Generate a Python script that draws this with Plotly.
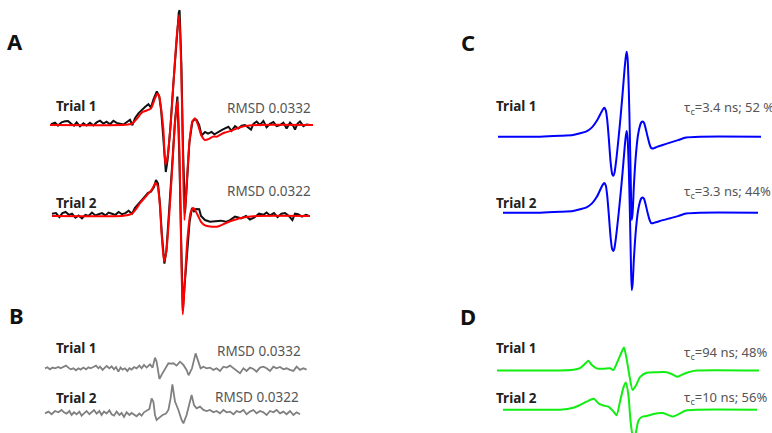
import plotly.graph_objects as go

# ---------------- data (field offset in G, amplitude in a.u.) ----------------
# Panel A: experimental spectra (black) and fits (red)
EXP1_FIELD = [0.5, 2.5, 4, 5.8, 7.5, 9, 10.5, 12, 13.3, 15,
              16.7, 18.3, 20, 21.7, 23.3, 25, 26.7, 28.3, 30, 31.7,
              33.3, 35, 36.7, 38.3, 40, 41.2, 42.5, 44.2, 45.8, 47.5,
              49.2, 50.5, 51.7, 53.4, 54.6, 55.6, 56.6, 57.4, 57.9, 58.8,
              60.2, 61.7, 63.2, 64.4, 64.8, 65.7, 66.5, 67.1, 67.5, 68.3,
              69.7, 71.2, 72.3, 73.3, 74.6, 75.8, 77.5, 79, 80.8, 82.2,
              83.5, 85.8, 87.5, 89.2, 90.8, 92.5, 94.2, 95.8, 97.5, 99,
              100.5, 101.7, 103.3, 105, 106.7, 108.3, 110, 111.7, 113.3, 115,
              116.7, 118.3, 120, 121.7, 122.5, 123.7, 125, 126.7, 128.3, 130,
              131.5]
EXP1_AMP = [0.006, 0.02, -0.005, 0.023, 0.032, 0.034, 0.012, -0.006, 0.023, -0.012,
            0.015, -0.005, 0.02, -0.004, 0.022, 0.037, 0.012, 0.028, 0.006, 0.037,
            0.018, 0.012, 0.004, 0.024, 0.045, -0.002, 0.058, 0.1, 0.13, 0.155,
            0.18, 0.15, 0.22, 0.29, 0.25, 0.12, -0.1, -0.33, -0.405, -0.3,
            -0.02, 0.36, 0.75, 0.97, 0.99, 0.52, -0.2, -0.66, -0.76, -0.55,
            -0.15, 0.03, 0.05, 0.045, 0.0, -0.09, -0.06, -0.075, -0.06, -0.08,
            -0.065, -0.045, -0.03, -0.015, -0.05, -0.01, -0.03, -0.005, 0.0, -0.02,
            -0.04, 0.01, 0.03, 0.0, 0.035, -0.02, 0.01, 0.025, -0.01, 0.0,
            0.02, -0.03, 0.02, -0.01, -0.04, 0.01, 0.03, -0.01, 0.005, 0.0,
            0.0]

EXP2_FIELD = [1, 3, 4.7, 6.2, 7.8, 9.5, 11, 12.7, 14.3, 16,
              17.7, 19.3, 21, 22.7, 24.3, 26, 27.7, 29.3, 31, 32.7,
              34.3, 36, 37.7, 39.3, 41, 42.5, 44, 45.8, 47.5, 49,
              50.5, 52, 53, 54, 55, 55.9, 56.7, 57.2, 58.2, 59.5,
              61, 62.5, 63.7, 64.6, 65.4, 66, 66.4, 67.2, 68.5, 69.8,
              71, 72, 73, 74.6, 75.5, 77.5, 80, 82.5, 85.5, 88,
              90, 92.5, 95.5, 98, 100, 102, 104.5, 106.7, 108.3, 110,
              112, 113.8, 115.7, 117.5, 119.5, 121.2, 122.5, 124, 126, 128,
              129.5]
EXP2_AMP = [0.02, 0.025, -0.01, 0.025, 0.035, 0.01, 0.02, -0.015, 0.005, -0.02,
            0.01, 0.0, 0.03, 0.005, 0.015, 0.025, 0.005, 0.03, 0.02, 0.01,
            0.035, 0.015, 0.025, 0.045, 0.02, 0.07, 0.1, 0.14, 0.17, 0.2,
            0.21, 0.25, 0.31, 0.28, 0.1, -0.15, -0.36, -0.41, -0.3, 0.0,
            0.42, 0.82, 1.03, 0.55, -0.1, -0.62, -0.82, -0.62, -0.3, -0.05,
            0.07, 0.04, 0.06, 0.058, 0.0, -0.035, -0.05, -0.045, -0.04, -0.05,
            -0.035, -0.005, -0.02, 0.0, -0.03, -0.015, 0.02, 0.01, 0.03, 0.005,
            0.025, -0.01, 0.02, 0.025, 0.0, -0.035, 0.02, 0.015, -0.005, 0.01,
            0.0]

FIT1_FIELD = [0, 36, 39, 41.2, 42.7, 44.2, 45.5, 46.7, 48.3, 50.5,
              52.5, 53.7, 54.7, 55.5, 56.7, 57.7, 58.8, 60.3, 61.8, 63.3,
              64.6, 65.6, 66.4, 67.2, 68.2, 69.7, 71.2, 72.5, 74, 75.7,
              77.5, 79.5, 81.5, 83.5, 85.5, 87.5, 89.5, 92, 96, 104,
              131.5]
FIT1_AMP = [0, 0.0, 0.005, 0.015, 0.04, 0.07, 0.1, 0.115, 0.125, 0.144,
            0.23, 0.27, 0.24, 0.15, -0.04, -0.34, -0.27, 0.0, 0.38, 0.75,
            0.95, 0.5, -0.2, -0.82, -0.55, -0.15, 0.03, 0.058, 0.0, -0.09,
            -0.13, -0.12, -0.1, -0.1, -0.08, -0.065, -0.055, -0.04, -0.015, 0.0,
            0.0]

FIT2_FIELD = [1, 36, 39, 41, 43, 45, 47, 49, 51, 52.8,
              53.8, 54.8, 55.8, 57, 58.2, 59.5, 61, 62.5, 63.8, 64.8,
              65.6, 66.4, 67.3, 68.7, 70.3, 71.7, 73.5, 75.5, 77.5, 80,
              84, 88, 92, 96, 104, 130]
FIT2_AMP = [0, 0, 0.008, 0.02, 0.06, 0.11, 0.15, 0.19, 0.23, 0.285,
            0.26, 0.12, -0.15, -0.39, -0.3, -0.02, 0.38, 0.8, 1.0, 0.5,
            -0.3, -0.85, -0.6, -0.2, 0.03, 0.07, 0.02, -0.05, -0.08, -0.09,
            -0.09, -0.06, -0.035, -0.015, 0, 0]

# Panel B: residuals (grey)
RES1_FIELD = [0.5, 1.7, 3, 4.3, 5.5, 7.2, 8.3, 9.7, 11, 12.2,
              13.3, 14.7, 16, 17.2, 18.3, 19.7, 21, 22.2, 23.3, 24.7,
              26, 27.2, 28, 29.3, 30.5, 31.3, 32.7, 33.8, 35, 36,
              37.2, 38.3, 39.3, 40.5, 41.7, 42.7, 43.8, 45, 46.3, 47.7,
              48.8, 50, 51.3, 53, 54.3, 55.5, 56.3, 57.2, 57.7, 58.8,
              60.5, 62.2, 63.5, 64.7, 66.3, 68, 69.7, 71.3, 72.3, 74,
              75.8, 77.2, 78.3, 79.7, 81.3, 83, 84.7, 86.3, 88, 89.7,
              91.3, 93, 94.7, 96.3, 98, 99.7, 101.3, 103, 104.7, 106.3,
              108, 109.7, 111.3, 113, 114.7, 116.3, 118, 119.7, 121.3, 123,
              124.7, 126.3, 128, 129.7, 131.3]
RES1_AMP = [0, 0.009, -0.009, 0.006, 0, 0.011, 0, 0.014, 0.023, 0.006,
            -0.009, 0, -0.017, 0, -0.011, 0.006, -0.009, 0.009, 0, 0.011,
            0.023, 0, 0.014, -0.014, 0.006, 0.02, 0, 0.017, -0.009, 0.011,
            -0.029, 0.006, -0.011, 0, -0.023, 0, -0.011, 0.011, 0, 0.023,
            0, 0.029, 0.006, 0.034, 0.006, 0.092, 0.057, -0.043, -0.092, -0.057,
            0, 0.043, 0.04, 0.043, 0.023, 0.057, 0.029, -0.014, -0.06, 0.0,
            0.129, 0.057, 0, 0.014, 0, 0.006, -0.014, 0, -0.023, 0.014,
            0.006, 0.023, 0, -0.014, -0.043, 0, -0.023, 0.006, -0.006, -0.029,
            0.006, 0.014, 0, -0.023, 0.014, 0, 0.011, -0.009, 0, -0.014,
            -0.023, 0.014, -0.014, 0, -0.011]

RES2_FIELD = [0.5, 2.2, 3.8, 5.5, 7.2, 8.8, 10, 11.3, 12.7, 13.8,
              15, 16.3, 17.7, 18.8, 20, 21.3, 22.7, 23.8, 25, 26.3,
              27.7, 28.8, 30, 31.3, 32.7, 33.8, 35, 36.3, 37.7, 38.8,
              40, 41.3, 42.7, 43.8, 45, 46.3, 47.7, 48.8, 50, 51.3,
              52.7, 53.8, 54.7, 55.5, 56.3, 57.7, 59.3, 61, 62.2, 63.3,
              64.2, 65.5, 67.2, 68.8, 69.7, 71.3, 73, 73.8, 75, 76.3,
              78, 79.7, 81.3, 83, 84.7, 86.3, 88, 89.7, 91.3, 93,
              94.7, 96.3, 98, 99.7, 101.3, 103, 104.7, 106.3, 108, 109.7,
              111.3, 113, 114.7, 116.3, 118, 119.7, 121.3, 123, 124.7, 126.3,
              128]
RES2_AMP = [-0.009, 0.006, -0.017, 0.011, 0, 0.02, 0, -0.011, 0.011, -0.023,
            0, -0.017, 0.006, -0.029, -0.009, 0.011, -0.017, 0, 0.02, -0.011,
            0.011, -0.023, 0.006, -0.011, 0.017, -0.017, -0.029, 0.006, -0.023, -0.006,
            -0.04, 0, -0.023, -0.006, -0.017, -0.034, -0.011, -0.029, 0, 0.011,
            0.029, 0.12, 0.09, -0.023, -0.066, -0.046, -0.023, -0.011, 0.02, 0.12,
            0.24, 0.092, 0.02, -0.066, -0.095, -0.023, 0.092, 0.149, 0.063, 0.034,
            0.049, 0.02, 0.011, 0.02, 0, 0.011, -0.009, 0.02, 0, 0.006,
            -0.017, 0.011, 0, 0.02, -0.017, 0.006, 0.02, -0.009, 0.011, 0,
            -0.023, 0.011, 0, 0.02, -0.009, 0.006, -0.017, 0.011, -0.023, 0,
            -0.017]

# Panel C: fast component (blue)
FAST1_FIELD = [0, 21, 31, 37.5, 41, 44, 47, 49.5, 51.5, 52.4,
               53.15, 53.9, 54.6, 55.4, 56.3, 57.1, 57.65, 58.2, 59.0, 60.0,
               61.0, 62.2, 63.3, 63.9, 64.35, 64.8, 65.4, 65.9, 66.4, 66.85,
               67.3, 68.0, 69.0, 70.0, 71.0, 71.7, 72.35, 73.0, 73.8, 74.8,
               75.8, 76.5, 77.15, 78.0, 79.5, 82, 86, 90, 94, 101,
               131.5]
FAST1_AMP = [0, 0, 0.01, 0.02, 0.04, 0.06, 0.11, 0.19, 0.28, 0.32,
             0.34, 0.31, 0.2, -0.02, -0.3, -0.44, -0.46, -0.43, -0.3, -0.08,
             0.16, 0.48, 0.8, 0.94, 1.0, 0.92, 0.55, 0.05, -0.55, -0.98,
             -0.9, -0.55, -0.2, 0.02, 0.13, 0.17, 0.18, 0.165, 0.1, 0.0,
             -0.09, -0.13, -0.14, -0.135, -0.12, -0.10, -0.07, -0.04, -0.01, 0,
             0]
FAST2_FIELD = [2.5, 21, 31, 37.5, 41, 44, 47, 49.5, 51.5, 52.4,
               53.15, 53.9, 54.6, 55.4, 56.3, 57.1, 57.65, 58.2, 59.0, 60.0,
               61.0, 62.2, 63.3, 63.9, 64.35, 64.8, 65.4, 65.9, 66.4, 66.85,
               67.3, 68.0, 69.0, 70.0, 71.0, 71.7, 72.35, 73.0, 73.8, 74.8,
               75.8, 76.5, 77.15, 78.0, 79.5, 82, 86, 90, 94, 101,
               130]
FAST2_AMP = [0, 0, 0.01, 0.02, 0.04, 0.06, 0.11, 0.19, 0.29, 0.33,
             0.35, 0.32, 0.2, -0.02, -0.29, -0.43, -0.45, -0.42, -0.29, -0.08,
             0.15, 0.45, 0.76, 0.9, 0.96, 0.88, 0.52, 0.05, -0.52, -0.91,
             -0.84, -0.52, -0.19, 0.02, 0.13, 0.17, 0.18, 0.165, 0.1, 0.0,
             -0.085, -0.12, -0.125, -0.12, -0.11, -0.09, -0.065, -0.04, -0.01, 0,
             0]

# Panel D: slow component (green)
SLOW1_FIELD = [0, 25, 31.5, 38.2, 41.5, 44, 45.7, 47.3, 49.8, 53.2,
               56.5, 58.2, 59.8, 62, 63.5, 64.8, 66.2, 67.8, 69.5, 71.5,
               74.8, 79.8, 84.8, 88.2, 90.2, 92.3, 95.7, 99.8, 131]
SLOW1_AMP = [0, 0, 0, 0.008, 0.027, 0.078, 0.115, 0.067, 0.025, 0.02,
             0.027, 0.005, 0.078, 0.2, 0.27, 0.137, -0.059, -0.23, -0.176, -0.078,
             -0.027, -0.02, -0.02, -0.051, -0.075, -0.051, -0.02, 0, 0]
SLOW2_FIELD = [3, 25, 31.5, 38.2, 41.5, 44.8, 48.4, 50.7, 53.2, 55.7,
               58.2, 59.8, 61.5, 63.2, 64.4, 65.7, 66.8, 68.2, 69, 70.7,
               72.3, 74.8, 78.2, 83, 88, 94.5, 100, 130]
SLOW2_AMP = [0, 0, 0, 0.024, 0.055, 0.094, 0.128, 0.075, 0.05, 0.035,
             -0.02, -0.065, 0.094, 0.26, 0.32, 0.173, -0.141, -0.36, -0.32, -0.13,
             -0.086, -0.075, -0.05, -0.04, -0.08, -0.01, 0, 0]

RMSD_LABELS = ["RMSD 0.0332", "RMSD 0.0322"]
FAST_LABELS = ["τ<sub>c</sub>=3.4 ns; 52 %", "τ<sub>c</sub>=3.3 ns; 44%"]
SLOW_LABELS = ["τ<sub>c</sub>=94 ns; 48%", "τ<sub>c</sub>=10 ns; 56%"]
TRIALS = ["Trial 1", "Trial 2"]

# ---------------- layout geometry ----------------
W, H = 772, 433
FONT = "Noto Sans, Open Sans, Arial, sans-serif"

# panel: x-axis left edge px, field span, baseline px of trial 1 and 2, px per amplitude unit
PANELS = {
    "A": dict(n="", x0=50, span=131.5, base1=125, base2=216, scale=116),
    "B": dict(n="2", x0=44, span=131.5, base1=368.3, base2=412.3, scale=116),
    "C": dict(n="3", x0=498, span=131.5, base1=136.7, base2=212.7, scale=85),
    "D": dict(n="4", x0=497, span=131.0, base1=370.5, base2=409.7, scale=85),
}

fig = go.Figure()


def add(panel, field, amp, trial, color, width, shape="linear"):
    p = PANELS[panel]
    off = 0.0 if trial == 1 else -(p["base2"] - p["base1"]) / p["scale"]
    line = dict(color=color, width=width, shape=shape)
    if shape == "spline":
        line["smoothing"] = 0.6
    fig.add_trace(go.Scatter(
        x=field, y=[a + off for a in amp], mode="lines", line=line,
        xaxis="x" + p["n"], yaxis="y" + p["n"], hoverinfo="skip", showlegend=False))


add("A", EXP1_FIELD, EXP1_AMP, 1, "#111111", 2.0)
add("A", EXP2_FIELD, EXP2_AMP, 2, "#111111", 2.0)
add("A", FIT1_FIELD, FIT1_AMP, 1, "#ff0000", 2.0, "spline")
add("A", FIT2_FIELD, FIT2_AMP, 2, "#ff0000", 2.0, "spline")
add("B", RES1_FIELD, RES1_AMP, 1, "#808080", 1.8)
add("B", RES2_FIELD, RES2_AMP, 2, "#808080", 1.8)
add("C", FAST1_FIELD, FAST1_AMP, 1, "#0000ff", 2.0, "spline")
add("C", FAST2_FIELD, FAST2_AMP, 2, "#0000ff", 2.0, "spline")
add("D", SLOW1_FIELD, SLOW1_AMP, 1, "#11ee11", 2.0, "spline")
add("D", SLOW2_FIELD, SLOW2_AMP, 2, "#11ee11", 2.0, "spline")

layout = dict(width=W, height=H, margin=dict(l=0, r=0, t=0, b=0),
              paper_bgcolor="white", plot_bgcolor="rgba(0,0,0,0)",
              font=dict(family=FONT), showlegend=False)
for k, p in PANELS.items():
    n = p["n"]
    width_px = p["span"] * 2
    layout["xaxis" + n] = dict(domain=[p["x0"] / W, (p["x0"] + width_px) / W],
                               range=[0, p["span"]], visible=False,
                               anchor="y" + n, fixedrange=True)
    layout["yaxis" + n] = dict(domain=[0, 1], anchor="x" + n, visible=False,
                               range=[-(H - p["base1"]) / p["scale"], p["base1"] / p["scale"]],
                               fixedrange=True)
fig.update_layout(**layout)


def txt(text, px, py, size, color, bold=False, anchor="left"):
    fig.add_annotation(text=("<b>%s</b>" % text) if bold else text,
                       x=px / W, y=1 - py / H, xref="paper", yref="paper",
                       xanchor=anchor, yanchor="middle", showarrow=False,
                       font=dict(size=size, color=color, family=FONT))


# panel letters
for letter, (lx, ly) in {"A": (15.5, 41), "B": (16.5, 315), "C": (468, 42), "D": (468, 316)}.items():
    txt(letter, lx, ly, 22, "#111111", bold=True, anchor="center")

# trial labels
for i, (yA, yB) in enumerate([(106, 347.5), (202.5, 397.5)]):
    txt(TRIALS[i], 54, yA, 13.5, "#222222", bold=True)
    txt(TRIALS[i], 54, yB, 13.5, "#222222", bold=True)
    txt(TRIALS[i], 494, yA, 13.5, "#222222", bold=True)
    txt(TRIALS[i], 494, yB, 13.5, "#222222", bold=True)

txt(RMSD_LABELS[0], 225, 107.5, 13.5, "#555555")
txt(RMSD_LABELS[1], 225, 191, 13.5, "#555555")
txt(RMSD_LABELS[0], 215, 351, 13.5, "#555555")
txt(RMSD_LABELS[1], 213, 397, 13.5, "#555555")
txt(FAST_LABELS[0], 682, 108, 13, "#555555")
txt(FAST_LABELS[1], 682, 192, 13, "#555555")
txt(SLOW_LABELS[0], 682, 352.5, 13, "#555555")
txt(SLOW_LABELS[1], 682, 398, 13, "#555555")

fig.write_html(
    "out.html",
    config={"displayModeBar": False},
    post_script="document.body.style.margin='0';document.body.style.padding='0';"
                "document.documentElement.style.overflow='hidden';",
)
